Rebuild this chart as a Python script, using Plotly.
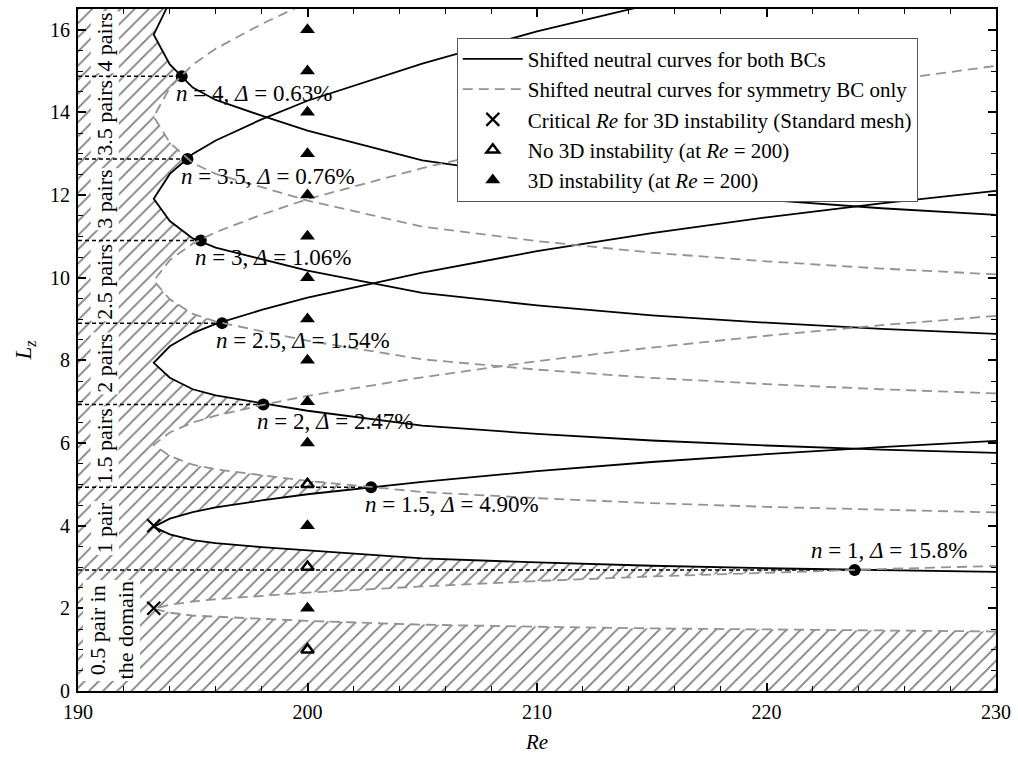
import numpy as np
import plotly.graph_objects as go

# Base neutral curve: Re as a function of spanwise wavelength (lower / upper branch)
re_base = [193.3, 194, 195, 196, 198, 200, 205, 210, 215, 220, 225, 230]
lam_lower = [3.97, 3.79, 3.65, 3.575, 3.48, 3.39, 3.21, 3.11, 3.03, 2.97, 2.92, 2.88]
lam_upper = [3.97, 4.17, 4.33, 4.44, 4.61, 4.76, 5.06, 5.32, 5.54, 5.73, 5.90, 6.05]

# Number of vortex pairs carried by each shifted curve
n_both = [1, 2, 3, 4]
n_sym = [0.5, 1.5, 2.5, 3.5]

# Critical points (standard mesh)
re_crit = 193.3
lz_crit = [2, 4]

# Checks at Re = 200
re_check = 200
lz_stable = [1, 3, 5]
lz_unstable = [2, 4, 6, 7, 8, 9, 10, 11, 12, 13, 14, 15, 16]

# Transitions between numbers of pairs
n_trans = ["4", "3.5", "3", "2.5", "2", "1.5", "1"]
lz_trans = [14.87, 12.87, 10.9, 8.9, 6.93, 4.93, 2.93]
delta_trans = [0.63, 0.76, 1.06, 1.54, 2.47, 4.90, 15.8]

pair_labels = ["4 pairs", "3.5 pairs", "3 pairs", "2.5 pairs", "2 pairs",
               "1.5 pairs", "1 pair", "0.5 pair in<br>the domain"]

RE_MIN, RE_MAX = 190, 230
LZ_MIN, LZ_MAX = 0, 16.5
FONT = "Liberation Serif"


def shifted_curve(n):
    xs = list(re_base[::-1]) + list(re_base[1:])
    ys = [n * v for v in lam_lower[::-1]] + [n * v for v in lam_upper[1:]]
    return xs, ys


def joined(ns):
    xs, ys = [], []
    for n in ns:
        cx, cy = shifted_curve(n)
        xs += cx + [None]
        ys += cy + [None]
    return xs, ys


def neutral_re(lam):
    if lam <= lam_lower[0]:
        if lam < lam_lower[-1]:
            return np.inf
        return float(np.interp(lam, lam_lower[::-1], re_base[::-1]))
    if lam > lam_upper[-1]:
        return np.inf
    return float(np.interp(lam, lam_upper, re_base))


# Stable (hatched) region: left of every shifted neutral curve
lz_grid = np.linspace(LZ_MIN, LZ_MAX, 3301)
re_edge = []
for lz in lz_grid:
    vals = [neutral_re(lz / n) if lz > 0 else np.inf for n in n_both + n_sym]
    re_edge.append(min(RE_MAX, min(vals)))
hatch_x = [RE_MIN] + re_edge + [RE_MIN]
hatch_y = [LZ_MIN] + list(lz_grid) + [LZ_MAX]

re_trans = [re_crit * (1 + d / 100) for d in delta_trans]

fig = go.Figure()

fig.add_trace(go.Scatter(
    x=hatch_x, y=hatch_y, mode="lines", fill="toself",
    fillcolor="white", line=dict(width=0),
    fillpattern=dict(shape="/", size=10, solidity=0.18, fgcolor="black", bgcolor="white"),
    showlegend=False, hoverinfo="skip"))

# Horizontal guides to the transition points
gx, gy = [], []
for r, lz in zip(re_trans, lz_trans):
    gx += [RE_MIN, r, None]
    gy += [lz, lz, None]
fig.add_trace(go.Scatter(x=gx, y=gy, mode="lines",
                         line=dict(color="black", width=1.5, dash="4px,3px"),
                         showlegend=False, hoverinfo="skip"))

sx, sy = joined(n_both)
fig.add_trace(go.Scatter(x=sx, y=sy, mode="lines", line=dict(color="black", width=1.8),
                         name="Shifted neutral curves for both BCs", legendrank=1))

fig.add_trace(go.Scatter(x=re_trans, y=lz_trans, mode="markers",
                         marker=dict(symbol="circle", size=12, color="black"),
                         showlegend=False))

dx, dy = joined(n_sym)
fig.add_trace(go.Scatter(x=dx, y=dy, mode="lines",
                         line=dict(color="#939393", width=1.8, dash="10px,6px"),
                         name="Shifted neutral curves for symmetry BC only", legendrank=2))

fig.add_trace(go.Scatter(x=[re_crit] * len(lz_crit), y=lz_crit, mode="markers",
                         marker=dict(symbol="x-thin", size=13, line=dict(color="black", width=2.2)),
                         name="Critical <i>Re</i> for 3D instability (Standard mesh)", legendrank=3))

fig.add_trace(go.Scatter(x=[re_check] * len(lz_stable), y=lz_stable, mode="markers",
                         marker=dict(symbol="triangle-up-open", size=11, color="black",
                                     line=dict(color="black", width=2.5)),
                         name="No 3D instability (at <i>Re</i> = 200)", legendrank=4))

fig.add_trace(go.Scatter(x=[re_check] * len(lz_unstable), y=lz_unstable, mode="markers",
                         marker=dict(symbol="triangle-up", size=13, color="black"),
                         name="3D instability (at <i>Re</i> = 200)", legendrank=5))

annotations = []
for n, r, lz, d in zip(n_trans, re_trans, lz_trans, delta_trans):
    txt = f"<i>n</i> = {n}, <i>Δ</i> = {d:.2f}%" if d < 10 else f"<i>n</i> = {n}, <i>Δ</i> = {d:.1f}%"
    if n == "1":
        annotations.append(dict(x=r, y=lz, text=txt, showarrow=False, xanchor="center",
                                yanchor="middle", xshift=34, yshift=19,
                                font=dict(family=FONT, size=23, color="black")))
    else:
        annotations.append(dict(x=r, y=lz, text=txt, showarrow=False, xanchor="left",
                                yanchor="middle", xshift=-8, yshift=-17,
                                font=dict(family=FONT, size=23, color="black")))

bounds = [LZ_MAX] + lz_trans + [LZ_MIN]
for i, lab in enumerate(pair_labels):
    mid = 0.5 * (bounds[i] + bounds[i + 1])
    two = "<br>" in lab
    annotations.append(dict(x=RE_MIN, y=mid, text=lab, showarrow=False, textangle=-90,
                            xanchor="center", yanchor="middle", xshift=34 if two else 27,
                            bgcolor="white", borderpad=1,
                            font=dict(family=FONT, size=22, color="black")))

axis_common = dict(
    showgrid=False, zeroline=False, showline=True, linecolor="black", linewidth=2,
    mirror="allticks", ticks="inside", ticklen=8, tickwidth=1.5, tickcolor="black",
    tickfont=dict(family=FONT, size=20, color="black"),
)

fig.update_layout(
    width=1018, height=763,
    margin=dict(l=78, r=19, t=7, b=72),
    paper_bgcolor="white", plot_bgcolor="white",
    font=dict(family=FONT, color="black"),
    xaxis=dict(range=[RE_MIN, RE_MAX], dtick=10, tick0=190, ticklabelstandoff=2,
               minor=dict(dtick=2, ticks="inside", ticklen=5, tickwidth=1.2, tickcolor="black"),
               title=dict(text="<i>Re</i>", font=dict(family=FONT, size=21), standoff=12),
               **axis_common),
    yaxis=dict(range=[LZ_MIN, LZ_MAX], dtick=2, tick0=0, ticklabelstandoff=2,
               minor=dict(dtick=0.5, ticks="inside", ticklen=5, tickwidth=1.2, tickcolor="black"),
               title=dict(text="<i>L</i><sub><i>z</i></sub>", font=dict(family=FONT, size=23), standoff=12),
               **axis_common),
    legend=dict(x=0.4126, y=0.958, xanchor="left", yanchor="top",
                bgcolor="white", bordercolor="#555555", borderwidth=1,
                font=dict(family=FONT, size=21, color="black"),
                tracegroupgap=0, itemwidth=60),
    annotations=annotations,
    showlegend=True,
)

fig.write_html("out.html")
